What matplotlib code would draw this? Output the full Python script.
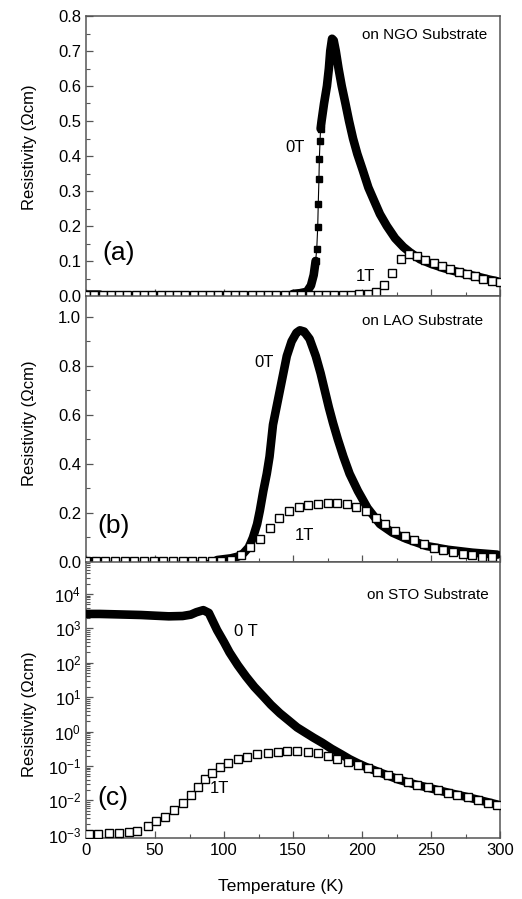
import numpy as np
import matplotlib
matplotlib.use("Agg")
import matplotlib.pyplot as plt
from matplotlib.ticker import (MultipleLocator, LogLocator, LogFormatterSciNotation,
                               NullFormatter, FormatStrFormatter, FixedLocator)

plt.rcParams['font.family'] = ['Liberation Sans', 'DejaVu Sans']
plt.rcParams['mathtext.fontset'] = 'custom'
plt.rcParams['mathtext.rm'] = 'Liberation Sans'
plt.rcParams['mathtext.it'] = 'Liberation Sans'
plt.rcParams['mathtext.default'] = 'regular'

# ---------------- data ----------------
# (a) NGO substrate
T0a = [0, 5, 10, 20, 30, 40, 50, 60, 70, 80, 90, 100, 110, 120, 130, 140, 150, 155, 160, 163, 165,
       166.4, 167.2, 167.9, 168.3, 168.8, 169.1, 169.6, 170.0, 170.7, 172.5, 174.6, 176, 177,
       178.3, 179.5, 181, 183, 185.3, 188, 190.6, 193.5, 196.6, 200.5, 204.6, 209, 213, 218, 224,
       230, 235, 242, 250, 259, 268, 276, 285, 292, 298]
R0a = [0.004, 0.004, 0.004, 0.003, 0.003, 0.003, 0.003, 0.003, 0.003, 0.003, 0.003, 0.004, 0.004,
       0.004, 0.005, 0.005, 0.006, 0.008, 0.012, 0.03, 0.06,
       0.10, 0.134, 0.196, 0.263, 0.335, 0.392, 0.444, 0.478, 0.50, 0.55, 0.60, 0.65, 0.70,
       0.735, 0.73, 0.70, 0.65, 0.60, 0.55, 0.50, 0.45, 0.406, 0.36, 0.31, 0.27, 0.234, 0.20, 0.165,
       0.14, 0.124, 0.105, 0.092, 0.08, 0.07, 0.062, 0.054, 0.047, 0.042]
T1a = [0, 6, 12, 18, 24, 30, 36, 42, 48, 54, 60, 66, 72, 78, 84, 90, 96, 102, 108, 114, 120, 126,
       132, 138, 144, 150, 156, 162, 168, 174, 180, 186, 192, 198, 204, 210, 216, 222, 228, 234,
       240, 246, 252, 258, 264, 270, 276, 282, 288, 294, 300]
R1a = [0.003, 0.003, 0.003, 0.003, 0.003, 0.003, 0.003, 0.003, 0.003, 0.003, 0.003, 0.003, 0.003,
       0.003, 0.003, 0.003, 0.003, 0.003, 0.003, 0.003, 0.003, 0.003, 0.003, 0.003, 0.003, 0.003,
       0.003, 0.003, 0.003, 0.003, 0.003, 0.004, 0.004, 0.005, 0.007, 0.012, 0.032, 0.065, 0.105,
       0.12, 0.114, 0.104, 0.094, 0.086, 0.077, 0.069, 0.062, 0.056, 0.05, 0.044, 0.039]

# (b) LAO substrate
T0b = [0, 4, 8, 20, 40, 60, 80, 95, 105, 110, 114, 118, 121, 124, 126, 128.5, 131, 133, 135.5, 138,
       140.5, 143, 145.5, 149, 152.5, 155, 158, 162, 166.5, 170, 173, 176, 179, 182.5, 186.5, 191,
       197, 204, 213, 222, 232, 247, 262, 280, 298]
R0b = [0.003, 0.003, 0.003, 0.002, 0.002, 0.002, 0.004, 0.008, 0.015, 0.022, 0.035, 0.06, 0.10,
       0.155, 0.21, 0.29, 0.36, 0.43, 0.56, 0.63, 0.70, 0.77, 0.84, 0.90, 0.935, 0.945, 0.94,
       0.91, 0.84, 0.77, 0.70, 0.63, 0.567, 0.50, 0.43, 0.36, 0.29, 0.22, 0.155, 0.12, 0.095,
       0.065, 0.05, 0.038, 0.03]
T1b = [0, 7, 14, 21, 28, 35, 42, 49, 56, 63, 70, 77, 84, 91, 98, 105, 112, 119, 126, 133, 140,
       147, 154, 161, 168, 175, 182, 189, 196, 203, 210, 217, 224, 231, 238, 245, 252, 259, 266,
       273, 280, 287, 294]
R1b = [0.004, 0.004, 0.004, 0.004, 0.004, 0.004, 0.004, 0.004, 0.004, 0.004, 0.004, 0.004, 0.004,
       0.004, 0.005, 0.009, 0.03, 0.06, 0.093, 0.14, 0.18, 0.208, 0.225, 0.233, 0.238, 0.24, 0.24,
       0.237, 0.226, 0.21, 0.18, 0.155, 0.128, 0.105, 0.088, 0.072, 0.058, 0.048, 0.04, 0.033,
       0.027, 0.022, 0.02]

# (c) STO substrate
T0c = [0, 10, 20, 30, 40, 50, 60, 70, 76, 80, 85, 89, 92, 95, 100, 104, 110, 116, 122, 128.5,
       134, 140.6, 147, 153, 159, 165, 171, 178, 185, 191, 197, 203, 215, 227, 239, 252, 264,
       276, 288, 298]
R0c = [2630, 2630, 2570, 2510, 2450, 2340, 2240, 2290, 2510, 2950, 3390, 2820, 1585, 891, 398,
       200, 85.1, 39.8, 19.95, 10.5, 6.03, 3.39, 2.09, 1.32, 0.933, 0.661, 0.479, 0.316, 0.219,
       0.158, 0.120, 0.0933, 0.0603, 0.0398, 0.0288, 0.0214, 0.0162, 0.0126, 0.00955, 0.00759]
T1c = [2, 9, 17, 24, 31, 37, 45, 51, 57, 64, 70, 76, 81, 86, 91, 97, 103, 110, 117, 124, 132, 139,
       146, 153, 161, 168, 175, 182, 190, 197, 204, 211, 219, 226, 233, 240, 248, 255, 262, 269,
       277, 284, 291, 298]
R1c = [0.00105, 0.00105, 0.0011, 0.00115, 0.00125, 0.00132, 0.00182, 0.00257, 0.00339, 0.00525,
       0.0083, 0.0145, 0.0251, 0.0407, 0.0646, 0.0955, 0.126, 0.155, 0.186, 0.219, 0.245, 0.263,
       0.275, 0.275, 0.263, 0.234, 0.195, 0.158, 0.135, 0.107, 0.085, 0.069, 0.055, 0.0437,
       0.0355, 0.0282, 0.024, 0.0204, 0.017, 0.0145, 0.0123, 0.0105, 0.0087, 0.0074]

log_ticks_c = [1e-3, 1e-2, 1e-1, 1e0, 1e1, 1e2, 1e3, 1e4]

substrates = ["on NGO Substrate", "on LAO Substrate", "on STO Substrate"]
panel_tags = ["(a)", "(b)", "(c)"]
field_labels_a = ["0T", "1T"]
field_labels_b = ["0T", "1T"]
field_labels_c = ["0 T", "1T"]

# ---------------- figure ----------------
W, H = 522, 899
fig = plt.figure(figsize=(W / 100, H / 100), dpi=100)

def frac(left, top, right, bottom):
    return [left / W, 1 - bottom / H, (right - left) / W, (bottom - top) / H]

ax_a = fig.add_axes(frac(86, 16, 500, 296))
ax_b = fig.add_axes(frac(86, 296, 500, 562))
ax_c = fig.add_axes(frac(86, 562, 500, 838))

SPINE = '#555555'
FS_TICK = 12
BAND = 6.2

def style(ax):
    for s in ax.spines.values():
        s.set_color(SPINE)
        s.set_linewidth(1.1)
    ax.tick_params(which='both', direction='in', top=False, right=False,
                   colors='black', labelsize=FS_TICK)
    ax.tick_params(which='major', length=5, width=0.9, color=SPINE)
    ax.tick_params(which='minor', length=3, width=0.8, color=SPINE)
    ax.set_xlim(0, 300)
    ax.xaxis.set_major_locator(MultipleLocator(50))
    ax.xaxis.set_minor_locator(MultipleLocator(25))
    ax.set_ylabel("Resistivity (\u03a9cm)", fontsize=12)

def plot_zero_field(ax, T, R, dense, sparse_markers=None):
    T = np.asarray(T, float)
    R = np.asarray(R, float)
    Rd = np.where(dense, R, np.nan)
    ax.plot(T, R, '-', color='black', lw=0.8, zorder=2)
    ax.plot(T, Rd, '-', color='black', lw=BAND, solid_capstyle='round',
            solid_joinstyle='round', zorder=3)
    if sparse_markers is not None:
        ax.plot(T, R, 's', color='black', ms=5, markevery=list(sparse_markers), zorder=3,
                linestyle='none')

def plot_one_tesla(ax, T, R):
    ax.plot(T, R, 's', mfc='white', mec='black', ms=5.2, mew=1.0, linestyle='none', zorder=4)

# (a)
style(ax_a)
Ta = np.asarray(T0a, float)
dense_a = (Ta <= 10) | ((Ta >= 150) & (Ta <= 166.4)) | (Ta >= 170.0)
sparse_a = (Ta > 166.0) & (Ta <= 170.0)
plot_zero_field(ax_a, T0a, R0a, dense_a, sparse_a)
plot_one_tesla(ax_a, T1a, R1a)
ax_a.set_ylim(0, 0.8)
ax_a.yaxis.set_major_locator(MultipleLocator(0.1))
ax_a.yaxis.set_minor_locator(MultipleLocator(0.05))
ax_a.yaxis.set_major_formatter(FormatStrFormatter('%.1f'))
ax_a.tick_params(labelbottom=False)
ax_a.text(290.6, 0.745, substrates[0], ha='right', va='center', fontsize=11)
ax_a.text(151.8, 0.423, field_labels_a[0], ha='center', va='center', fontsize=12)
ax_a.text(202.7, 0.057, field_labels_a[1], ha='center', va='center', fontsize=12)
ax_a.text(23.4, 0.124, panel_tags[0], ha='center', va='center', fontsize=19)
ax_a.yaxis.set_label_coords(-0.118, 0.53)

# (b)
style(ax_b)
Tb = np.asarray(T0b, float)
dense_b = (Tb <= 8) | (Tb >= 95)
plot_zero_field(ax_b, T0b, R0b, dense_b)
plot_one_tesla(ax_b, T1b, R1b)
ax_b.set_ylim(0, 1.085)
ax_b.yaxis.set_major_locator(MultipleLocator(0.2))
ax_b.yaxis.set_minor_locator(MultipleLocator(0.1))
ax_b.yaxis.set_major_formatter(FormatStrFormatter('%.1f'))
ax_b.tick_params(labelbottom=False)
ax_b.text(288, 0.985, substrates[1], ha='right', va='center', fontsize=11)
ax_b.text(129, 0.813, field_labels_b[0], ha='center', va='center', fontsize=12)
ax_b.text(158, 0.107, field_labels_b[1], ha='center', va='center', fontsize=12)
ax_b.text(20.3, 0.148, panel_tags[1], ha='center', va='center', fontsize=19)
ax_b.yaxis.set_label_coords(-0.118, 0.52)

# (c)
style(ax_c)
ax_c.set_yscale('log')
Tc = np.asarray(T0c, float)
plot_zero_field(ax_c, T0c, R0c, np.ones_like(Tc, bool))
plot_one_tesla(ax_c, T1c, R1c)
ax_c.set_ylim(8.1e-4, 8.5e4)
ax_c.yaxis.set_major_locator(FixedLocator(log_ticks_c))
minor_c = [m * d for d in log_ticks_c[:-1] for m in range(2, 10)] + [2e4, 3e4, 4e4, 5e4, 6e4, 7e4, 8e4]
ax_c.yaxis.set_minor_locator(FixedLocator(minor_c))
ax_c.yaxis.set_minor_formatter(NullFormatter())
ax_c.yaxis.set_major_formatter(LogFormatterSciNotation())
ax_c.tick_params(which='both', direction='in')
ax_c.set_xlabel("Temperature (K)", fontsize=12.5)
ax_c.xaxis.set_label_coords(0.47, -0.15)
ax_c.text(291.5, 9300, substrates[2], ha='right', va='center', fontsize=11)
ax_c.text(115.7, 794, field_labels_c[0], ha='center', va='center', fontsize=12)
ax_c.text(96.4, 0.0224, field_labels_c[1], ha='center', va='center', fontsize=12)
ax_c.text(19.8, 0.0115, panel_tags[2], ha='center', va='center', fontsize=19)
ax_c.yaxis.set_label_coords(-0.118, 0.45)

fig.savefig("out.png", dpi=100)
